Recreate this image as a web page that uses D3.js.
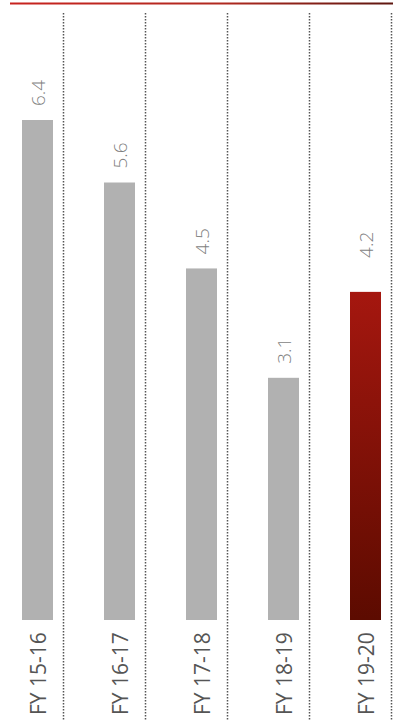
<!DOCTYPE html>
<html>
<head>
<meta charset="utf-8">
<script src="https://cdn.jsdelivr.net/npm/d3@7/dist/d3.min.js"></script>
<style>
  html, body { margin: 0; padding: 0; background: #fff; }
  svg { display: block; }
</style>
</head>
<body>
<svg id="chart" width="393" height="722"></svg>
<script>
// Fiscal years and their values
const categories = ["FY 15-16", "FY 16-17", "FY 17-18", "FY 18-19", "FY 19-20"];
const values = [6.4, 5.6, 4.5, 3.1, 4.2];
const highlight = "FY 19-20";

const W = 393, H = 722;
const svg = d3.select("#chart");

// One column per year; the bar sits toward the left of its column
const x = d3.scaleBand()
  .domain(categories)
  .range([-4.5, 405.5])
  .paddingInner(0)
  .paddingOuter(0);
const barW = 31;
const barOffset = 26.5;   // band start to bar left edge
const dividerGap = 10;    // bar right edge to dotted divider

const y = d3.scaleLinear()
  .domain([0, 6.4])
  .range([620, 120]);

const defs = svg.append("defs");
const topGrad = defs.append("linearGradient")
  .attr("id", "topRule").attr("x1", "0%").attr("x2", "100%").attr("y1", "0%").attr("y2", "0%");
topGrad.append("stop").attr("offset", "0%").attr("stop-color", "#c8231f");
topGrad.append("stop").attr("offset", "55%").attr("stop-color", "#b12a20");
topGrad.append("stop").attr("offset", "100%").attr("stop-color", "#5e1710");

const barGrad = defs.append("linearGradient")
  .attr("id", "hiBar").attr("x1", "0%").attr("x2", "0%").attr("y1", "0%").attr("y2", "100%");
barGrad.append("stop").attr("offset", "0%").attr("stop-color", "#a5170f");
barGrad.append("stop").attr("offset", "100%").attr("stop-color", "#5c0b00");

// Top rule
svg.append("rect")
  .attr("x", 10).attr("y", 2.5).attr("width", W - 10).attr("height", 2)
  .attr("fill", "url(#topRule)");

// Dotted column dividers
const divX = d => Math.round(x(d) + barOffset + barW + dividerGap) + 0.5;
svg.append("g").selectAll("line")
  .data(categories)
  .join("line")
  .attr("x1", divX)
  .attr("x2", divX)
  .attr("y1", 13).attr("y2", 721)
  .attr("stroke", "#555555")
  .attr("stroke-width", 1.5)
  .attr("stroke-dasharray", "1.5,1.5");

// Bars
svg.append("g").selectAll("rect")
  .data(categories)
  .join("rect")
  .attr("x", d => x(d) + barOffset)
  .attr("width", barW)
  .attr("y", (d, i) => y(values[i]))
  .attr("height", (d, i) => y(0) - y(values[i]))
  .attr("fill", d => d === highlight ? "url(#hiBar)" : "#b1b1b1");

// Value labels, rotated, above each bar
svg.append("g").selectAll("text")
  .data(categories)
  .join("text")
  .attr("transform", (d, i) => {
    const cx = x(d) + barOffset + barW / 2 + 7;
    const cy = y(values[i]) - (d === highlight ? 34 : 14);
    return `translate(${cx},${cy}) rotate(-90)`;
  })
  .attr("text-anchor", "start")
  .attr("font-family", "'Open Sans', sans-serif")
  .attr("font-weight", 300)
  .attr("font-size", 19)
  .attr("fill", "#7f7f7f")
  .text((d, i) => d3.format(".1f")(values[i]));

// Category labels, rotated, below each bar
svg.append("g").selectAll("text")
  .data(categories)
  .join("text")
  .attr("transform", d => {
    const cx = x(d) + barOffset + barW / 2 + 8;
    return `translate(${cx},${715}) rotate(-90)`;
  })
  .attr("text-anchor", "start")
  .attr("font-family", "'Open Sans', sans-serif")
  .attr("font-size", 21)
  .attr("fill", "#555555")
  .text(d => d);
</script>
</body>
</html>
